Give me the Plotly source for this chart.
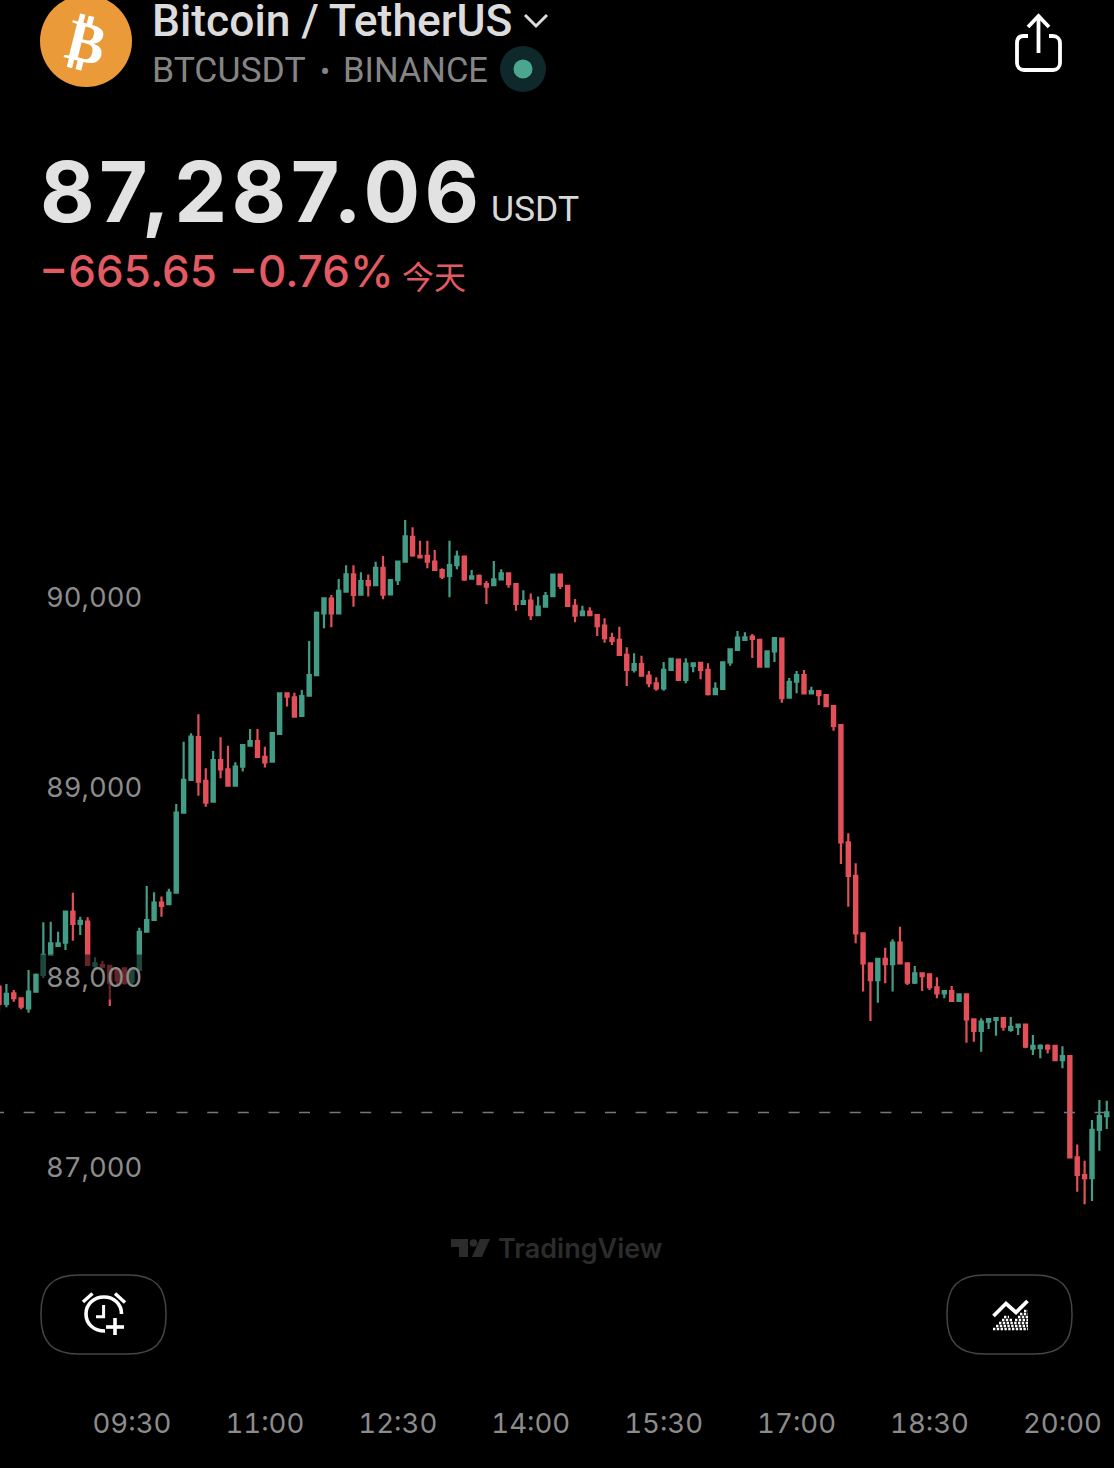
import pandas as pd
import plotly.graph_objects as go

W, H = 1114, 1468

times = pd.date_range("2025-03-28 08:00", periods=151, freq="5min")

opens = [87949,87858,87914,87888,87835,87923,88011,88116,88163,88181,
88344,88279,88291,88058,88063,88059,88033,88046,87975,88037,
88238,88300,88391,88384,88444,88865,89037,89262,89032,88923,
89142,89093,89007,89107,89217,89242,89159,89133,89279,89493,
89472,89374,89481,89589,89914,89991,89914,90028,90119,90012,
90084,90062,90154,90014,90089,90186,90317,90217,90217,90186,
90142,90111,90168,90212,90096,90111,90068,90062,90093,90125,
90068,89963,89981,89905,89949,90005,90118,90058,89953,89904,
89923,89905,89849,89783,89774,89695,89616,89647,89586,89546,
89519,89616,89670,89563,89637,89654,89616,89488,89516,89656,
89721,89774,89791,89774,89633,89714,89781,89470,89554,89589,
89493,89505,89484,89426,89326,88709,88532,88230,88072,87984,
88095,88068,88181,88072,87970,88019,88014,87946,87914,87926,
87874,87909,87777,87716,87765,87774,87784,87721,87737,87749,
87623,87626,87637,87637,87563,87584,87051,86958,86941,87195,
87268]

highs = [87967,87963,87932,87891,88037,88019,88288,88291,88238,88344,
88444,88317,88314,88104,88086,88063,88047,88050,88047,88259,
88479,88446,88423,88465,88911,89238,89283,89383,89098,89189,
89262,89217,89130,89221,89305,89305,89212,89288,89495,89497,
89496,89511,89768,89923,89998,90011,90095,90167,90167,90130,
90119,90186,90216,90089,90186,90405,90367,90296,90296,90247,
90151,90296,90244,90212,90142,90119,90084,90189,90146,90130,
90068,90035,90019,90002,90026,90120,90120,90058,89989,89954,
89946,89905,89888,89812,89844,89735,89704,89691,89611,89577,
89658,89679,89672,89677,89651,89658,89651,89551,89656,89730,
89821,89814,89805,89774,89714,89788,89781,89574,89611,89616,
89528,89505,89484,89426,89332,88756,88598,88230,88077,88095,
88154,88198,88265,88072,88058,88019,88016,87998,87926,87953,
87912,87909,87777,87783,87779,87784,87788,87789,87749,87749,
87695,87646,87646,87637,87635,87584,87119,87033,87247,87353,
87349]

lows = [87817,87841,87870,87830,87812,87923,87995,88116,88159,88142,
88191,88221,88063,88037,88047,87847,87958,87960,87958,88030,
88238,88300,88317,88379,88444,88865,89033,88954,88896,88923,
89046,89007,89002,89081,89217,89159,89102,89133,89279,89423,
89365,89370,89481,89589,89835,89841,89910,90028,89949,90010,
90002,90058,89988,90009,90063,90186,90212,90209,90151,90142,
90095,89998,90146,90084,90096,90065,89963,90062,90093,90049,
89928,89963,89879,89905,89949,90000,90042,89953,89867,89904,
89905,89795,89759,89747,89689,89532,89602,89584,89525,89507,
89507,89616,89559,89546,89604,89567,89481,89488,89516,89638,
89721,89774,89679,89628,89633,89658,89444,89467,89493,89489,
89493,89432,89426,89296,88595,88370,88177,87923,87768,87865,
87967,87923,88068,87958,87963,87926,87932,87888,87888,87870,
87870,87654,87659,87607,87726,87691,87717,87712,87695,87625,
87589,87572,87598,87563,87520,87049,86870,86804,86821,87086,
87200]

closes = [87858,87911,87888,87844,87923,88011,88116,88177,88177,88344,
88279,88296,88063,88072,88054,87968,87984,87968,88037,88238,
88300,88391,88374,88444,88865,89037,89265,89028,88917,89142,
89093,89007,89107,89221,89242,89159,89130,89283,89493,89475,
89370,89479,89589,89917,89993,89914,90032,90119,90011,90084,
90062,90154,90012,90089,90186,90319,90219,90209,90186,90142,
90107,90168,90212,90093,90109,90068,90054,90093,90125,90068,
89963,89979,89904,89949,90005,90118,90058,89953,89902,89923,
89905,89847,89783,89768,89695,89616,89647,89586,89546,89519,
89616,89674,89563,89649,89651,89616,89488,89516,89656,89725,
89786,89788,89779,89633,89714,89783,89467,89554,89589,89493,
89505,89484,89426,89321,88709,88532,88230,88072,87984,88095,
88068,88181,88072,87970,88019,88005,87946,87914,87926,87874,
87909,87777,87716,87765,87779,87784,87738,87738,87749,87633,
87637,87637,87623,87563,87584,87051,86958,86941,87195,87268,
87287.06]

y_ticks = [87000, 88000, 89000, 90000]
y_labels = ["87,000", "88,000", "89,000", "90,000"]
x_ticks = ["2025-03-28 09:30", "2025-03-28 11:00", "2025-03-28 12:30", "2025-03-28 14:00",
           "2025-03-28 15:30", "2025-03-28 17:00", "2025-03-28 18:30", "2025-03-28 20:00"]
x_labels = ["09:30", "11:00", "12:30", "14:00", "15:30", "17:00", "18:30", "20:00"]
last_price = 87287.06

GREEN = "#439C86"
RED = "#E35059"
AXIS = "#8C8C8C"
FONT = "Inter"


def tab(s, extra=""):
    return f'<span style="font-variant-numeric:tabular-nums;{extra}">{s}</span>'


def fx(x):
    return x / W


def fy(y):
    return 1 - y / H


def path(cmds):
    """Build a shape path from page-pixel commands, e.g. ('M', x, y), ('C', x1, y1, x2, y2, x, y)."""
    out = []
    for c in cmds:
        if c[0] == "Z":
            out.append("Z")
            continue
        nums = []
        for k in range(1, len(c), 2):
            nums.append(f"{fx(c[k]):.6f},{fy(c[k + 1]):.6f}")
        out.append(c[0] + " ".join(nums))
    return "".join(out)


def stroke(cmds, color="#FFFFFF", width=3.2, fill=None, dash=None):
    line = dict(color=color, width=width)
    if dash:
        line["dash"] = dash
    d = dict(type="path", xref="paper", yref="paper", path=path(cmds), line=line, layer="above")
    if fill:
        d["fillcolor"] = fill
    return d


def disc(cx, cy, r, color):
    return dict(type="circle", xref="paper", yref="paper", x0=fx(cx - r), x1=fx(cx + r),
                y0=fy(cy + r), y1=fy(cy - r), fillcolor=color, line=dict(width=0), layer="above")


def pill(x0, y0, x1, y1, r, color="#454545"):
    k = r * 0.7
    return stroke([("M", x0 + r, y0), ("L", x1 - r, y0),
                   ("C", x1 - r + k, y0, x1, y0 + r - k, x1, y0 + r),
                   ("L", x1, y1 - r),
                   ("C", x1, y1 - r + k, x1 - r + k, y1, x1 - r, y1),
                   ("L", x0 + r, y1),
                   ("C", x0 + r - k, y1, x0, y1 - r + k, x0, y1 - r),
                   ("L", x0, y0 + r),
                   ("C", x0, y0 + r - k, x0 + r - k, y0, x0 + r, y0), ("Z",)],
                  color=color, width=1.5)


def label(x, y, s, size, color, family="Roboto", weight=400, anchor="left", **kw):
    return dict(xref="paper", yref="paper", x=fx(x), y=fy(y), text=s, showarrow=False,
                xanchor=anchor, yanchor="middle", borderpad=0, borderwidth=0,
                font=dict(family=family, size=size, color=color, weight=weight), **kw)


fig = go.Figure(go.Candlestick(
    x=times, open=opens, high=highs, low=lows, close=closes,
    increasing=dict(line=dict(color=GREEN, width=2.2), fillcolor=GREEN),
    decreasing=dict(line=dict(color=RED, width=2.2), fillcolor=RED),
    whiskerwidth=0, showlegend=False, hoverinfo="skip",
))

shapes = [
    # last-price line
    dict(type="line", xref="paper", yref="y", x0=fx(-7), x1=1, y0=last_price, y1=last_price,
         line=dict(color="#777777", width=1.6, dash="11px,19.6px"), layer="above"),
    # coin badge
    disc(86, 41, 46, "#EA9A38"),
    # status dot
    disc(523, 69, 23, "#0E282C"),
    disc(523, 69, 9.5, "#4BA68F"),
    # chevron
    stroke([("M", 525, 15), ("L", 536, 26), ("L", 547, 15)], color="#DCDCDC", width=3),
    # share icon
    stroke([("M", 1028, 36), ("L", 1024, 36), ("C", 1019, 36, 1017, 39, 1017, 43),
            ("L", 1017, 63), ("C", 1017, 67, 1020, 70, 1024, 70), ("L", 1053, 70),
            ("C", 1057, 70, 1060, 67, 1060, 63), ("L", 1060, 43),
            ("C", 1060, 39, 1057, 36, 1053, 36), ("L", 1049, 36)], width=3.8),
    stroke([("M", 1038.5, 17), ("L", 1038.5, 53)], width=3.8),
    stroke([("M", 1028, 27), ("L", 1038.5, 16), ("L", 1049, 27)], width=3.8),
    # buttons
    pill(41, 1275, 166, 1354, 38),
    pill(947, 1275, 1072, 1354, 38),
    # alarm icon
    stroke([("M", 121.5, 1314), ("C", 121.5, 1304, 114, 1297, 104, 1297),
            ("C", 94, 1297, 86, 1304, 86, 1314), ("C", 86, 1324, 94, 1331, 105, 1331)], width=3.6),
    stroke([("M", 103.6, 1305), ("L", 103.6, 1316.7), ("L", 96, 1316.7)], width=3),
    stroke([("M", 83, 1302), ("L", 92.5, 1293.5)], width=3.4),
    stroke([("M", 115, 1293.5), ("L", 125, 1302.5)], width=3.4),
    stroke([("M", 106, 1327), ("L", 124, 1327)], width=3.6),
    stroke([("M", 115, 1318), ("L", 115, 1335)], width=3.6),
    # area-chart icon
    stroke([("M", 993.5, 1316), ("L", 1006, 1303.5), ("L", 1016, 1312.5), ("L", 1027.5, 1301)], width=3.8),
    # TradingView mark
    stroke([("M", 451, 1239), ("L", 468, 1239), ("L", 468, 1257), ("L", 459, 1257),
            ("L", 459, 1247), ("L", 451, 1247), ("Z",)], color="#2C2C2C", width=0, fill="#2C2C2C"),
    disc(473.5, 1243, 3.8, "#2C2C2C"),
    stroke([("M", 480, 1239), ("L", 490, 1239), ("L", 482, 1257), ("L", 472, 1257), ("Z",)],
           color="#2C2C2C", width=0, fill="#2C2C2C"),
]
# stippled fill of the area-chart icon
for yy, xa, xb in [(1311, 1024, 1028), (1314, 1020, 1028), (1317, 1004, 1009), (1317, 1018, 1028),
                   (1320, 1002, 1012), (1320, 1015, 1028), (1323, 999, 1028), (1326, 996, 1028),
                   (1329, 993, 1028)]:
    shapes.append(stroke([("M", xa, yy), ("L", xb, yy)], width=2.4, dash="2.4px,1.4px"))

annotations = [
    label(86, 42, "₿", 58, "#FFFFFF", family="DejaVu Sans", weight=700, anchor="center", textangle=14),
    label(152, 21, "Bitcoin / TetherUS", 44.4, "#DCDCDC", weight=500),
    label(152, 70, "BTCUSDT", 35.5, "#858585"),
    label(325, 71, "•", 30, "#858585", anchor="center"),
    label(343, 70, "BINANCE", 34.5, "#858585"),
    label(40, 191, '<span style="letter-spacing:4.4px">87,287.06</span>', 84, "#E2E2E2", family=FONT, weight=700),
    label(491, 209, "USDT", 35.5, "#D8D8D8"),
    label(39, 271, "−665.65 −0.76%", 44, "#E25A62", family=FONT, weight=500),
    label(402, 275, "今天", 32, "#E25A62", family="Noto Sans CJK SC"),
    label(498, 1248, "TradingView", 27, "#2C2C2C", family=FONT, weight=600),
]
# price scale labels sit on a translucent plate that dims the candles behind them
for v, s in zip(y_ticks, y_labels):
    annotations.append(dict(
        xref="paper", yref="y", x=fx(40), y=v, text=tab(s), showarrow=False,
        xanchor="left", yanchor="middle", borderpad=5, bgcolor="rgba(0,0,0,0.55)",
        font=dict(family=FONT, size=27.4, color=AXIS),
    ))

fig.update_layout(
    width=W, height=H,
    margin=dict(l=0, r=0, t=0, b=0),
    paper_bgcolor="#000000",
    plot_bgcolor="#000000",
    boxgap=0.38,
    dragmode=False,
    showlegend=False,
    shapes=shapes,
    annotations=annotations,
    xaxis=dict(
        type="date",
        range=["2025-03-28 08:00:40", "2025-03-28 20:34:54"],
        rangeslider=dict(visible=False),
        showgrid=False, zeroline=False, showline=False, ticks="",
        tickmode="array", tickvals=x_ticks, ticktext=[tab(s) for s in x_labels],
        tickfont=dict(family=FONT, size=27.6, color=AXIS),
        ticklabelstandoff=9,
        anchor="y",
    ),
    yaxis=dict(
        domain=[73 / H, 1],
        range=[85800, 93142],
        showgrid=False, zeroline=False, showline=False, ticks="",
        tickmode="array", tickvals=y_ticks, ticktext=y_labels,
        showticklabels=False,
    ),
)

fig.write_html(
    "out.html",
    config=dict(displayModeBar=False, staticPlot=True),
    post_script="document.body.style.margin='0';document.body.style.background='#000';"
                "document.documentElement.style.overflow='hidden';",
)
